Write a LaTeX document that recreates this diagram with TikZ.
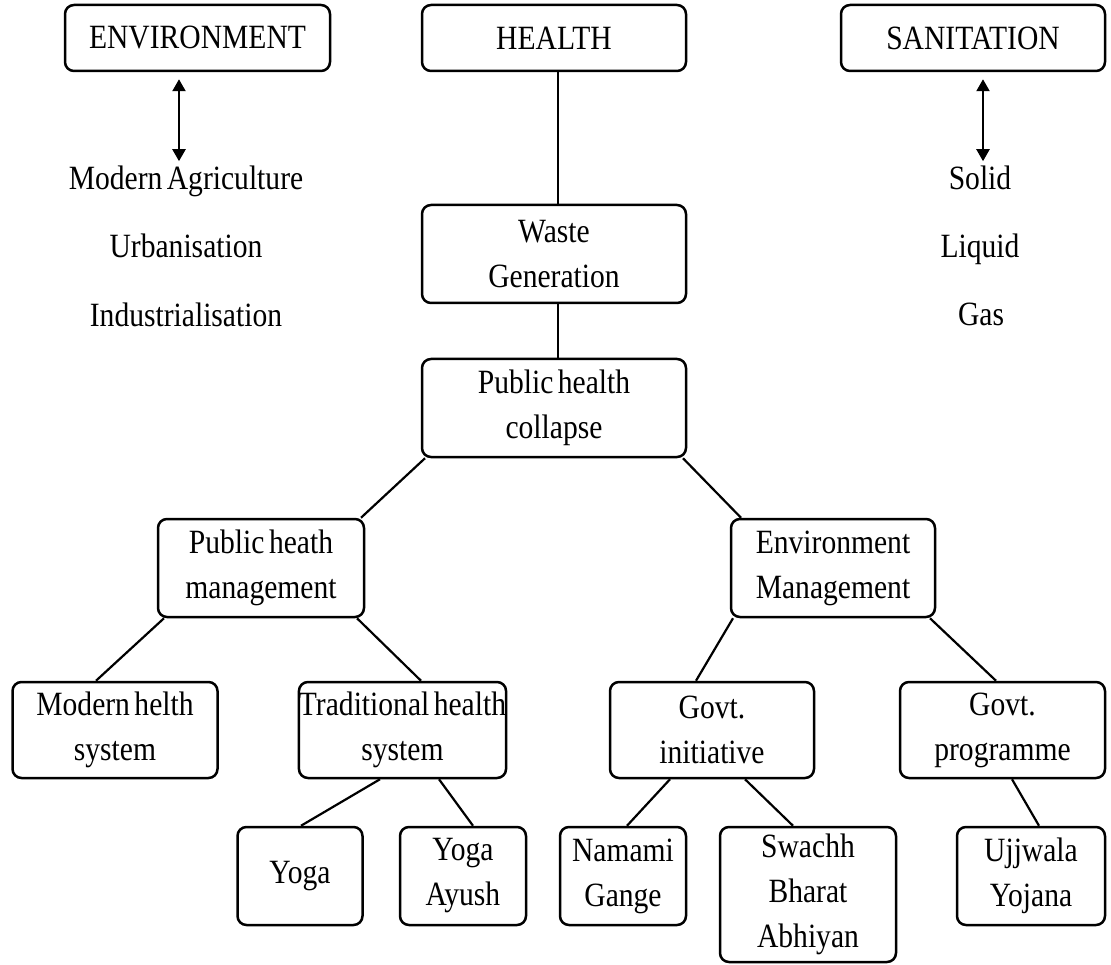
\documentclass[tikz,border=0pt]{standalone}
\usepackage{fontspec}
\setmainfont{Liberation Serif}[FakeStretch=0.87,WordSpace=0.6]
\usetikzlibrary{arrows.meta}
\newcommand\dgfont{\fontsize{34}{45}\selectfont}
\tikzset{
  box/.style={draw, line width=2.5pt, rounded corners=9pt, inner sep=0pt, align=center, font=\dgfont},
  lbl/.style={inner sep=0pt, font=\dgfont, anchor=base},
  conn/.style={line width=2.2pt},
  dbl/.style={line width=2.3pt, {Triangle[length=12pt,width=13pt]}-{Triangle[length=12pt,width=13pt]}},
}
\begin{document}
\begin{tikzpicture}[x=1pt,y=-1pt]
\useasboundingbox (0,0) rectangle (1111,965);
% top row
\node[box, minimum width=265pt, minimum height=66pt] (env) at (197.5,38) {ENVIRONMENT};
\node[box, minimum width=264pt, minimum height=66pt] (health) at (554,38) {HEALTH};
\node[box, minimum width=264pt, minimum height=66pt] (san) at (973,38) {SANITATION};
% side lists
\node[lbl] (ma) at (186,190) {Modern Agriculture};
\node[lbl] (urb) at (186,258) {Urbanisation};
\node[lbl] (ind) at (186,327) {Industrialisation};
\node[lbl] (solid) at (980,190) {Solid};
\node[lbl] (liquid) at (980,258) {Liquid};
\node[lbl] (gas) at (981,326) {Gas};
% central chain
\node[box, minimum width=264pt, minimum height=98pt] (waste) at (554,254) {Waste\\Generation};
\node[box, minimum width=264pt, minimum height=98pt] (phc) at (554,408) {Public health\\collapse};
\node[box, minimum width=206pt, minimum height=98pt] (phm) at (261,568) {Public heath\\management};
\node[box, minimum width=204pt, minimum height=98pt] (em) at (833,568) {Environment\\Management};
\node[box, minimum width=205pt, minimum height=96pt] (mhs) at (115,730) {Modern helth\\system};
\node[box, minimum width=205pt, minimum height=96pt] (ths) at (402.5,730) {Traditional health\\system};
\node[box, minimum width=204pt, minimum height=96pt] (gi) at (712,730) {Govt.\\initiative};
\node[box, minimum width=205pt, minimum height=96pt] (gp) at (1002.5,730) {Govt.\\programme};
\node[box, minimum width=125pt, minimum height=98pt] (yoga) at (300,876) {Yoga};
\node[box, minimum width=126pt, minimum height=98pt] (ya) at (463,876) {Yoga\\Ayush};
\node[box, minimum width=126pt, minimum height=98pt] (ng) at (623,876) {Namami\\Gange};
\node[box, minimum width=176pt, minimum height=135pt] (sba) at (808,894.5) {Swachh\\Bharat\\Abhiyan};
\node[box, minimum width=148pt, minimum height=98pt] (uy) at (1031,876) {Ujjwala\\Yojana};
% arrows
\draw[dbl] ([xshift=-18.5pt,yshift=-7pt]env.south) -- ([xshift=-7pt,yshift=5pt]ma.north);
\draw[dbl] ([xshift=10pt,yshift=-7pt]san.south) -- ([xshift=3pt,yshift=5pt]solid.north);
% connectors
\draw[conn] ([xshift=4pt]health.south) -- ([xshift=4pt]waste.north);
\draw[conn] ([xshift=4pt]waste.south) -- ([xshift=4pt]phc.north);
\draw[conn] ([xshift=-129pt]phc.south) -- ([xshift=100pt]phm.north);
\draw[conn] ([xshift=129pt]phc.south) -- ([xshift=-92pt]em.north);
\draw[conn] ([xshift=-97pt]phm.south) -- ([xshift=-19pt]mhs.north);
\draw[conn] ([xshift=96pt]phm.south) -- ([xshift=18.5pt]ths.north);
\draw[conn] ([xshift=-100pt]em.south) -- ([xshift=-16pt]gi.north);
\draw[conn] ([xshift=97pt]em.south) -- ([xshift=-6.5pt]gp.north);
\draw[conn] ([xshift=-22.5pt]ths.south) -- ([xshift=1pt]yoga.north);
\draw[conn] ([xshift=36.5pt]ths.south) -- ([xshift=10pt]ya.north);
\draw[conn] ([xshift=-42pt]gi.south) -- ([xshift=4pt]ng.north);
\draw[conn] ([xshift=33pt]gi.south) -- ([xshift=-15pt]sba.north);
\draw[conn] ([xshift=9.5pt]gp.south) -- ([xshift=8pt]uy.north);
\end{tikzpicture}
\end{document}
